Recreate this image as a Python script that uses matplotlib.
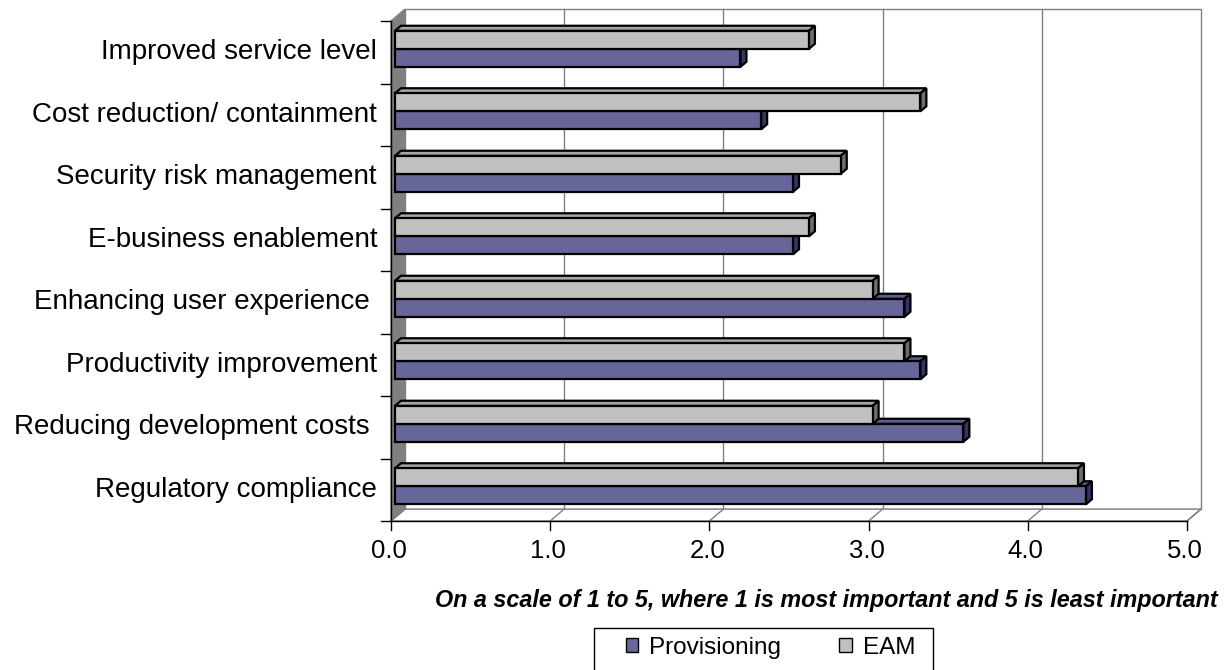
import matplotlib
matplotlib.use('Agg')
import matplotlib.pyplot as plt
from matplotlib.transforms import IdentityTransform
from matplotlib.patches import Polygon, Patch, Rectangle
from matplotlib.lines import Line2D

# ---------------- data ----------------
categories = ["Improved service level", "Cost reduction/ containment",
              "Security risk management", "E-business enablement",
              "Enhancing user experience ", "Productivity improvement",
              "Reducing development costs ", "Regulatory compliance"]
provisioning = [2.17, 2.30, 2.50, 2.50, 3.20, 3.30, 3.57, 4.34]
eam = [2.60, 3.30, 2.80, 2.60, 3.00, 3.20, 3.00, 4.29]
series_names = ["Provisioning", "EAM"]
xticks = [0, 1, 2, 3, 4, 5]
xtick_labels = ["0.0", "1.0", "2.0", "3.0", "4.0", "5.0"]
xlabel = "On a scale of 1 to 5, where 1 is most important and 5 is least important"

# ---------------- styles ----------------
PROV_FRONT, PROV_TOP, PROV_SIDE = "#666699", "#5d5d8e", "#333366"
EAM_FRONT, EAM_TOP, EAM_SIDE = "#c0c0c0", "#a6a6a6", "#6e6e6e"
WALL = "#808080"
GRID = "#808080"
FONT = "Liberation Sans"

W, H = 1227, 670
fig = plt.figure(figsize=(W / 100, H / 100), dpi=100)
ax = fig.add_axes([395 / W, (H - 517.6) / H, 796 / W, 500 / H])
ax.set_xlim(0, 5)
n = len(categories)
ax.set_ylim(-0.5, n - 0.5)
ax.axis('off')

IDT = IdentityTransform()
SLOPE = 0.85


def P(x, y, d):
    X, Y = ax.transData.transform((x, y))
    return (X + d, Y + SLOPE * d)


def poly(pts, fc, ec, lw, z):
    p = Polygon(pts, closed=True, facecolor=fc, edgecolor=ec, linewidth=lw,
                transform=IDT, zorder=z, clip_on=False, joinstyle='miter')
    fig.add_artist(p)


def line(p1, p2, c, lw, z):
    l = Line2D([p1[0], p2[0]], [p1[1], p2[1]], color=c, linewidth=lw,
               transform=IDT, zorder=z, clip_on=False)
    fig.add_artist(l)


x0, x1 = xticks[0], xticks[-1]
ylo, yhi = -0.5, n - 0.5
DF, DB = -4, 10  # front / back planes (pixel depth)

# back wall
poly([P(x0, ylo, DB), P(x1, ylo, DB), P(x1, yhi, DB), P(x0, yhi, DB)],
     "white", GRID, 1.0, 0.5)
for t in xticks[1:-1]:
    line(P(t, ylo, DB), P(t, yhi, DB), GRID, 1.0, 0.6)
# floor
poly([P(x0, ylo, DF), P(x1, ylo, DF), P(x1, ylo, DB), P(x0, ylo, DB)],
     "white", GRID, 1.0, 0.7)
for t in xticks[1:]:
    line(P(t, ylo, DF), P(t, ylo, DB), GRID, 1.0, 0.8)
# side wall
poly([P(x0, ylo, DF), P(x0, yhi, DF), P(x0, yhi, DB), P(x0, ylo, DB)],
     WALL, GRID, 1.0, 0.9)
# front axes
line(P(x0, ylo, DF), P(x1, ylo, DF), "black", 1.0, 1.0)
line(P(x0, ylo, DF), P(x0, yhi, DF), "black", 1.0, 1.0)
for t in xticks:
    a = P(t, ylo, DF)
    line(a, (a[0], a[1] - 9), "black", 1.0, 1.0)
for k in range(n + 1):
    a = P(x0, k - 0.5, DF)
    line(a, (a[0] - 10, a[1]), "black", 1.0, 1.0)

# bars
h = 18 / 62.5
BD = 6
for i in range(n):
    yc = n - 1 - i
    for vals, y0, fcs, z in ((provisioning, yc - h, (PROV_FRONT, PROV_TOP, PROV_SIDE), 2),
                             (eam, yc, (EAM_FRONT, EAM_TOP, EAM_SIDE), 3)):
        v = vals[i]
        y1 = y0 + h
        poly([P(0, y1, 0), P(v, y1, 0), P(v, y1, BD), P(0, y1, BD)], fcs[1], "black", 1.6, z)
        poly([P(v, y0, 0), P(v, y1, 0), P(v, y1, BD), P(v, y0, BD)], fcs[2], "black", 1.6, z)
        poly([P(0, y0, 0), P(v, y0, 0), P(v, y1, 0), P(0, y1, 0)], fcs[0], "black", 1.6, z)

# category labels
for i, c in enumerate(categories):
    yc = n - 1 - i
    X, Y = P(x0, yc, DF)
    fig.text(X - 14, Y, c, transform=IDT, ha='right', va='center',
             fontsize=20, family=FONT, color='black')

# tick labels
for t, lab in zip(xticks, xtick_labels):
    X, Y = P(t, ylo, DF)
    fig.text(X - 2, Y - 30, lab, transform=IDT, ha='center', va='center',
             fontsize=18.5, family=FONT, color='black')

# axis title
fig.text(1218 / W, 1 - 600 / H, xlabel, ha='right', va='center', fontsize=16.8,
         fontweight='bold', fontstyle='italic', family=FONT)

# legend box
fig.add_artist(Rectangle((594, H - 672), 339, 44, transform=IDT, facecolor='white',
                         edgecolor='black', linewidth=1.0, zorder=4, clip_on=False))
# legend entries
handles = [Patch(facecolor=PROV_FRONT, edgecolor='black', linewidth=1),
           Patch(facecolor=EAM_FRONT, edgecolor='black', linewidth=1)]
leg = fig.legend(handles, series_names, loc='center left',
                 bbox_to_anchor=(626 / W, 1 - 648 / H), ncol=2,
                 frameon=False, handlelength=0.5, handleheight=0.5,
                 handletextpad=0.45, columnspacing=2.4, borderpad=0,
                 borderaxespad=0, prop={'family': FONT, 'size': 17.5})
leg.set_zorder(5)

fig.savefig("out.png", dpi=100, facecolor='white')
